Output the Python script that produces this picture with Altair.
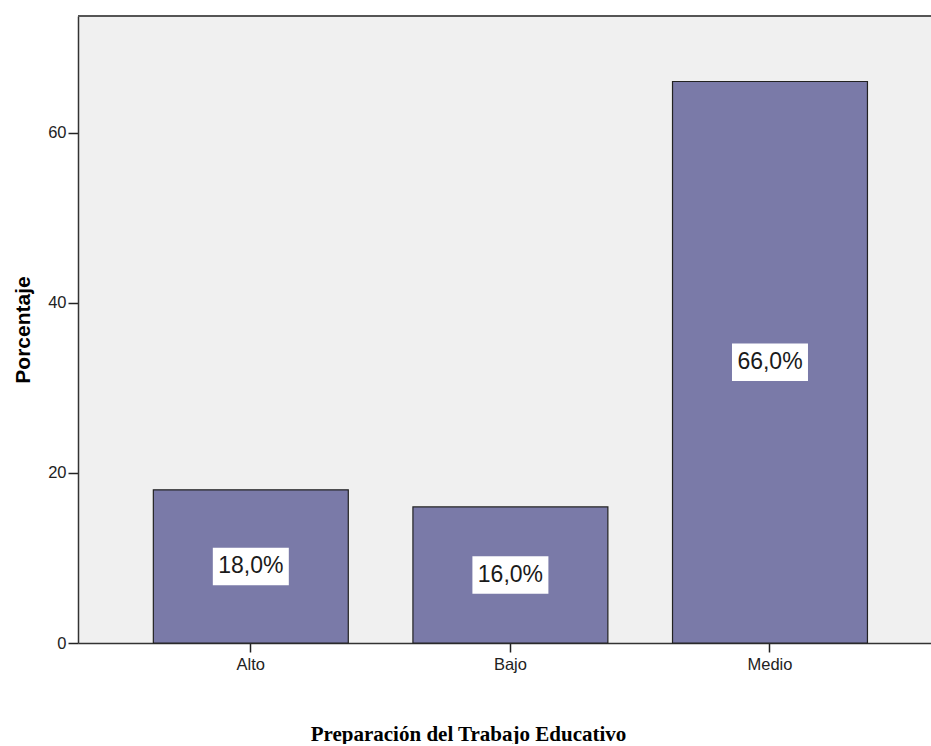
import altair as alt
import pandas as pd

categories = ["Alto", "Bajo", "Medio"]
percentages = [18.0, 16.0, 66.0]
labels = [f"{v:.1f}".replace(".", ",") + "%" for v in percentages]
y_ticks = [0, 20, 40, 60]

df = pd.DataFrame({"cat": categories, "pct": percentages, "label": labels})
df["mid"] = df["pct"] / 2

FONT = "Liberation Sans"
W, H = 853, 627

x_scale = alt.Scale(domain=categories, paddingInner=0.249, paddingOuter=0.2675, align=0.5425)
y_scale = alt.Scale(domain=[0, 73.7], nice=False, zero=True)

x_enc = alt.X(
    "cat:N",
    scale=x_scale,
    sort=categories,
    axis=alt.Axis(
        title="Preparación del Trabajo Educativo",
        titleFont="Liberation Serif",
        titleFontSize=21,
        titleFontWeight="bold",
        titleColor="#000000",
        titleX=390,
        titleY=97,
        titleAlign="center",
        titleBaseline="alphabetic",
        labelAngle=0,
        labelFont=FONT,
        labelFontSize=16.5,
        labelColor="#222222",
        labelPadding=4,
        tickSize=9,
        tickColor="#222222",
        tickWidth=1.5,
        domainColor="#333333",
        domainWidth=1.5,
        grid=False,
    ),
)

bars = alt.Chart(df).mark_bar(
    color="#7a7aa8", stroke="#222222", strokeWidth=1.2
).encode(
    x=x_enc,
    y=alt.Y(
        "pct:Q",
        scale=y_scale,
        axis=alt.Axis(
            title="Porcentaje",
            titleFont=FONT,
            titleFontSize=21,
            titleFontWeight="bold",
            titleColor="#000000",
            titleAngle=-90,
            titleX=-55,
            titleY=313.5,
            titleAlign="center",
            titleBaseline="middle",
            values=y_ticks,
            labelFont=FONT,
            labelFontSize=16.5,
            labelColor="#222222",
            labelPadding=2,
            tickSize=10,
            tickColor="#222222",
            tickWidth=1.5,
            domainColor="#333333",
            domainWidth=1.5,
            grid=False,
        ),
    ),
)

top_border = alt.Chart(df).mark_rule(color="#555555", strokeWidth=2).encode(
    x=alt.value(0), x2=alt.value(W), y=alt.value(0)
)

box_shape = "M-1,-0.493L1,-0.493L1,0.493L-1,0.493Z"
boxes = alt.Chart(df).mark_point(
    shape=box_shape, filled=True, color="#ffffff", opacity=1, size=5776, strokeWidth=0
).encode(
    x=alt.X("cat:N", scale=x_scale, sort=categories),
    y=alt.Y("mid:Q", scale=y_scale),
)

texts = alt.Chart(df).mark_text(
    font=FONT, fontSize=23, color="#1a1a1a", baseline="middle", align="center"
).encode(
    x=alt.X("cat:N", scale=x_scale, sort=categories),
    y=alt.Y("mid:Q", scale=y_scale),
    text="label:N",
)

chart = (
    alt.layer(bars, top_border, boxes, texts)
    .properties(
        width=W,
        height=H,
        padding={"left": 78, "top": 16, "right": 0, "bottom": 101},
        autosize=alt.AutoSizeParams(type="none"),
        background="#ffffff",
    )
    .configure_view(fill="#f0f0f0", stroke=None)
)

chart.save("out.html", embed_options={"renderer": "svg", "actions": False})
